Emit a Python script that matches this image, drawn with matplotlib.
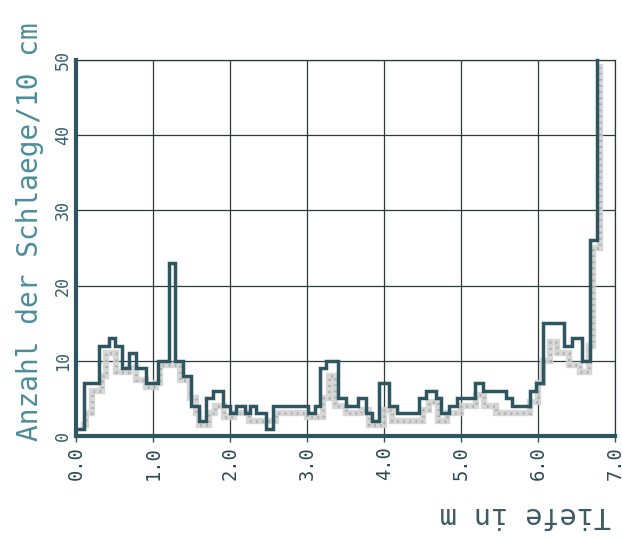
import matplotlib
matplotlib.use("Agg")
import matplotlib.pyplot as plt

# Ram sounding: blows per 10 cm over depth (main sounding, step series)
depth_a = [0.00, 0.10, 0.29, 0.43, 0.50, 0.60, 0.69, 0.78, 0.90, 1.06, 1.20, 1.28,
           1.39, 1.49, 1.59, 1.69, 1.78, 1.90, 2.00, 2.07, 2.19, 2.26, 2.34, 2.47,
           2.56, 3.01, 3.10, 3.17, 3.25, 3.40, 3.51, 3.66, 3.76, 3.84, 3.93, 4.07,
           4.17, 4.45, 4.55, 4.67, 4.74, 4.84, 4.95, 5.18, 5.29, 5.58, 5.66, 5.90,
           5.97, 6.06, 6.34, 6.44, 6.57, 6.67, 6.77]
blows_a = [1, 7, 12, 13, 12, 9, 11, 9, 7, 10, 23, 10,
           8, 4, 2, 5, 6, 4, 3, 4, 3, 4, 3, 1,
           4, 3, 4, 9, 10, 5, 4, 5, 3, 2, 7, 4,
           3, 5, 6, 5, 3, 4, 5, 7, 6, 5, 4, 6,
           7, 15, 12, 13, 10, 26, 50]

# Second sounding (light grey trace)
depth_b = [0.10, 0.13, 0.20, 0.33, 0.38, 0.52, 0.68, 0.78, 0.91, 1.04, 1.09, 1.35,
           1.48, 1.55, 1.60, 1.72, 1.80, 1.92, 2.05, 2.25, 2.60, 3.00, 3.20, 3.28,
           3.36, 3.50, 3.70, 3.80, 4.00, 4.10, 4.50, 4.58, 4.70, 4.82, 5.00, 5.20,
           5.30, 5.45, 5.90, 6.00, 6.06, 6.15, 6.25, 6.40, 6.55, 6.66, 6.72, 6.80]
blows_b = [1.5, 3, 6, 8, 11, 8.5, 9, 7.5, 6.5, 7, 9.5, 7.5,
           5, 3, 1.5, 3, 4, 2.5, 3, 2, 3, 2.5, 5, 8,
           4, 3, 3.5, 1.5, 3.5, 2, 3.5, 4.5, 2, 3, 4, 5.5,
           4, 3, 4.5, 7, 10, 12.5, 11, 9.5, 8.5, 12, 25, 49]

x_ticks = [0, 1, 2, 3, 4, 5, 6, 7]
x_tick_labels = ["0.0", "1.0", "2.0", "3.0", "4.0", "5.0", "6.0", "7.0"]
y_ticks = [0, 10, 20, 30, 40, 50]
y_tick_labels = ["0", "10", "20", "30", "40", "50"]

dark = "#2e5660"
grid_col = "#2a3b3e"
teal = "#4a8d98"
mono = "DejaVu Sans Mono"

fig = plt.figure(figsize=(6.23, 5.39), dpi=100)
fig.patch.set_facecolor("white")
ax = fig.add_axes([0.1225, 0.191, 0.8645, 0.698])

ax.set_xlim(0, 7)
ax.set_ylim(0, 50)

ax.set_xticks(x_ticks)
ax.set_yticks(y_ticks)
ax.grid(True, color=grid_col, linewidth=0.9, zorder=1)
ax.set_axisbelow(True)

# grey trace: soft band with a speckled overlay
ax.step(depth_b, blows_b, where="post", color="#d2d2d2", linewidth=4.6,
        alpha=0.9, zorder=2, solid_joinstyle="miter")
ax.step(depth_b, blows_b, where="post", color="#a9a9a9", linewidth=2.2,
        linestyle=(0, (0.6, 1.4)), alpha=0.8, zorder=2)
ax.step(depth_a, blows_a, where="post", color=dark, linewidth=2.5,
        zorder=3, solid_joinstyle="miter", clip_on=False)

for side in ("left", "bottom"):
    ax.spines[side].set_color(dark)
    ax.spines[side].set_linewidth(3.0)
    ax.spines[side].set_zorder(4)
for side in ("top", "right"):
    ax.spines[side].set_color(grid_col)
    ax.spines[side].set_linewidth(0.9)

ax.set_xticklabels(x_tick_labels, rotation=90, fontfamily=mono, fontsize=13.5,
                   color="#2d4b52", va="top", ha="center")
ax.set_yticklabels(y_tick_labels, rotation=90, fontfamily=mono, fontsize=12,
                   color="#35606a", va="center", ha="right")
ax.tick_params(axis="x", direction="out", length=4, width=1.0, color=dark, pad=3)
ax.tick_params(axis="y", length=0, pad=3)

fig.text(0.048, 0.571, "Anzahl der Schlaege/10 cm", rotation=90,
         fontfamily=mono, fontsize=20, color=teal, ha="center", va="center")
fig.text(0.843, 0.045, "Tiefe in m", rotation=180,
         fontfamily=mono, fontsize=20.5, color="#3d5a63", ha="center", va="center")

fig.savefig("out.png", dpi=100)
